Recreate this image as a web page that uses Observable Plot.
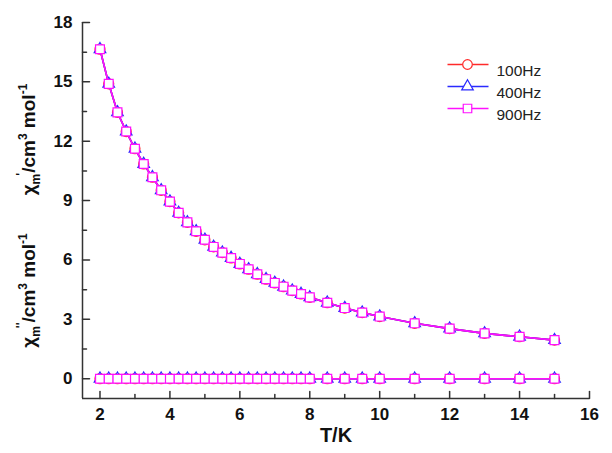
<!DOCTYPE html>
<html><head><meta charset="utf-8">
<script src="https://cdn.jsdelivr.net/npm/d3@7"></script>
<script src="https://cdn.jsdelivr.net/npm/@observablehq/plot@0.6"></script>
<style>html,body{margin:0;padding:0;background:#fff}#chart svg{display:block}</style>
</head><body><div id="chart"></div>
<script>
// Temperatures (K)
const temps = [2,2.25,2.5,2.75,3,3.25,3.5,3.75,4,4.25,4.5,4.75,5,5.25,5.5,5.75,6,6.25,6.5,6.75,7,7.25,7.5,7.75,8,8.5,9,9.5,10,11,12,13,14,15];
// chi' (in-phase) for each frequency
const chiP100 = [16.65,14.9,13.46,12.49,11.62,10.85,10.18,9.52,8.95,8.38,7.9,7.45,7.02,6.66,6.37,6.1,5.8,5.53,5.28,5.03,4.84,4.65,4.45,4.28,4.11,3.84,3.57,3.34,3.14,2.8,2.53,2.29,2.12,1.95];
const chiP400 = [16.65,14.9,13.46,12.49,11.62,10.85,10.18,9.52,8.95,8.38,7.9,7.45,7.02,6.66,6.37,6.1,5.8,5.53,5.28,5.03,4.84,4.65,4.45,4.28,4.11,3.84,3.57,3.34,3.14,2.8,2.53,2.29,2.12,1.95];
const chiP900 = [16.65,14.9,13.46,12.49,11.62,10.85,10.18,9.52,8.95,8.38,7.9,7.45,7.02,6.66,6.37,6.1,5.8,5.53,5.28,5.03,4.84,4.65,4.45,4.28,4.11,3.84,3.57,3.34,3.14,2.8,2.53,2.29,2.12,1.95];
// chi'' (out-of-phase) for each frequency
const chiPP100 = [0,0,0,0,0,0,0,0,0,0,0,0,0,0,0,0,0,0,0,0,0,0,0,0,0,0,0,0,0,0,0,0,0,0];
const chiPP400 = [0,0,0,0,0,0,0,0,0,0,0,0,0,0,0,0,0,0,0,0,0,0,0,0,0,0,0,0,0,0,0,0,0,0];
const chiPP900 = [0,0,0,0,0,0,0,0,0,0,0,0,0,0,0,0,0,0,0,0,0,0,0,0,0,0,0,0,0,0,0,0,0,0];

const seriesNames = ["100Hz","400Hz","900Hz"];
const seriesColors = ["#ff2a2a","#2a2aff","#ff10ff"];
const seriesSymbols = ["circle","triangle","square"];

const xMajor = [2,4,6,8,10,12,14,16];
const xMinor = [3,5,7,9,11,13,15];
const yMajor = [0,3,6,9,12,15,18];
const yMinor = [1.5,4.5,7.5,10.5,13.5,16.5];
const xDomain = [1.5,16];
const yDomain = [-1,18];

const primeSets = [chiP100, chiP400, chiP900];
const dprimeSets = [chiPP100, chiPP400, chiPP900];

const font = "'Liberation Sans', Arial, sans-serif";
const axisColor = "#333";

const tickShape = {draw(ctx, l) { ctx.moveTo(0, 0); ctx.lineTo(0, -l); }};

const marks = [];
// axis lines
marks.push(Plot.ruleX([xDomain[0]], {y1: yDomain[0], y2: yDomain[1], stroke: axisColor, strokeWidth: 1.5}));
marks.push(Plot.ruleY([yDomain[0]], {x1: xDomain[0], x2: xDomain[1], stroke: axisColor, strokeWidth: 1.5}));
// inward ticks
marks.push(Plot.vector(xMajor, {x: d => d, y: yDomain[0], length: 7, rotate: 0, anchor: "start", shape: tickShape, stroke: axisColor, strokeWidth: 1.5}));
marks.push(Plot.vector(xMinor, {x: d => d, y: yDomain[0], length: 4, rotate: 0, anchor: "start", shape: tickShape, stroke: axisColor, strokeWidth: 1.5}));
marks.push(Plot.vector(yMajor, {x: xDomain[0], y: d => d, length: 7, rotate: 90, anchor: "start", shape: tickShape, stroke: axisColor, strokeWidth: 1.5}));
marks.push(Plot.vector(yMinor, {x: xDomain[0], y: d => d, length: 4, rotate: 90, anchor: "start", shape: tickShape, stroke: axisColor, strokeWidth: 1.5}));
// tick labels
marks.push(Plot.axisX({ticks: xMajor, tickSize: 0, tickPadding: 9, tickFormat: d => String(d), fontSize: 17, fontWeight: "bold", fill: "#111", label: null}));
marks.push(Plot.axisY({ticks: yMajor, tickSize: 0, tickPadding: 10, tickFormat: d => String(d), fontSize: 17, fontWeight: "bold", fill: "#111", label: null}));

// series
seriesNames.forEach((name, i) => {
  const p = temps.map((t, j) => ({t, v: primeSets[i][j]}));
  const pp = temps.map((t, j) => ({t, v: dprimeSets[i][j]}));
  for (const data of [p, pp]) {
    marks.push(Plot.line(data, {x: "t", y: "v", stroke: seriesColors[i], strokeWidth: 1.6}));
  }
  for (const data of [p, pp]) {
    marks.push(Plot.dot(data, {x: "t", y: "v", symbol: seriesSymbols[i], r: seriesSymbols[i] === "triangle" ? 4.3 : 5, stroke: seriesColors[i], fill: "white", strokeWidth: 1.2}));
  }
});

// legend
const lineSym = {draw(ctx) { ctx.moveTo(-20, 0); ctx.lineTo(21, 0); }};
seriesNames.forEach((name, i) => {
  const dy = 42 + i * 22;
  marks.push(Plot.dot([name], {frameAnchor: "top-left", dx: 385, dy, symbol: lineSym, stroke: seriesColors[i], strokeWidth: 1.6, fill: "none"}));
  marks.push(Plot.dot([name], {frameAnchor: "top-left", dx: 385, dy, symbol: seriesSymbols[i], r: seriesSymbols[i] === "triangle" ? 4.3 : 4.8, stroke: seriesColors[i], fill: "white", strokeWidth: 1.2}));
  marks.push(Plot.text([name], {frameAnchor: "top-left", dx: 414, dy, text: d => d, textAnchor: "start", fontSize: 15.5, fill: "#222"}));
});

// axis titles
marks.push(Plot.text(["T/K"], {frameAnchor: "bottom", dy: 43, text: d => d, fontSize: 20, fontWeight: "bold", fill: "#111"}));
marks.push(Plot.text(["YLAB1"], {frameAnchor: "left", textAnchor: "middle", rotate: -90, dx: -54, dy: -71, text: d => d, fontSize: 19, fontWeight: "bold", fill: "#111"}));
marks.push(Plot.text(["YLAB2"], {frameAnchor: "left", textAnchor: "middle", rotate: -90, dx: -54, dy: 80, text: d => d, fontSize: 19, fontWeight: "bold", fill: "#111"}));

const chart = Plot.plot({
  width: 612,
  height: 453,
  marginLeft: 82,
  marginRight: 23,
  marginTop: 22,
  marginBottom: 55,
  x: {domain: xDomain},
  y: {domain: yDomain},
  style: {fontFamily: font, background: "white"},
  marks
});

// rich-text y-axis titles
function richLabel(textEl, primes) {
  const parts = [
    ["χ", null], ["m", "sub"], [primes, "sup-after-sub"], ["/cm", null], ["3", "sup"], [" mol", null], ["-1", "sup"]
  ];
  while (textEl.firstChild) textEl.removeChild(textEl.firstChild);
  let shift = 0;
  const ns = "http://www.w3.org/2000/svg";
  for (const [s, kind] of parts) {
    const ts = document.createElementNS(ns, "tspan");
    let target = 0;
    if (kind === "sub") { target = 5; ts.setAttribute("font-size", 12); }
    else if (kind === "sup") { target = -8; ts.setAttribute("font-size", 12); }
    else if (kind === "sup-after-sub") { target = -10; ts.setAttribute("font-size", 12); ts.setAttribute("dx", -2); }
    ts.setAttribute("dy", target - shift);
    shift = target;
    ts.textContent = s;
    textEl.appendChild(ts);
  }
}
chart.querySelectorAll("text").forEach(t => {
  if (t.textContent === "YLAB1") richLabel(t, "'");
  else if (t.textContent === "YLAB2") richLabel(t, "''");
});

document.getElementById("chart").appendChild(chart);
</script>
</body></html>
